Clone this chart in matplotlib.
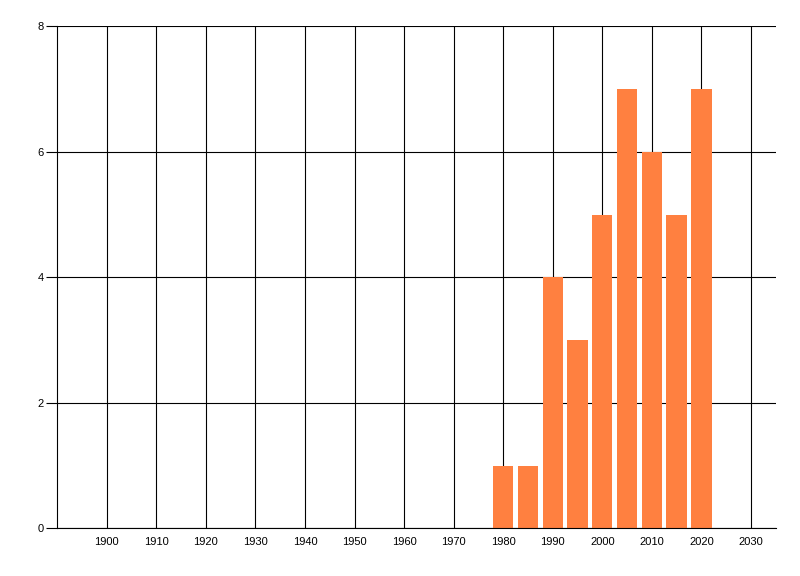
import matplotlib
matplotlib.use("Agg")
import matplotlib.pyplot as plt

years = [1980, 1985, 1990, 1995, 2000, 2005, 2010, 2015, 2020]
counts = [1, 1, 4, 3, 5, 7, 6, 5, 7]
x_ticks = list(range(1900, 2031, 10))
y_ticks = [0, 2, 4, 6, 8]

bar_color = "#FF8040"

plt.rcParams["font.family"] = ["Liberation Sans", "DejaVu Sans"]

fig = plt.figure(figsize=(8, 5.76), dpi=100)
ax = fig.add_axes([0.0716, 0.0828, 0.898, 0.8715])

ax.bar(years, counts, width=4.1, color=bar_color, zorder=3)

ax.set_xlim(1890, 2035)
ax.set_ylim(0, 8)
ax.set_xticks(x_ticks)
ax.set_yticks(y_ticks)
ax.tick_params(axis="x", length=0, pad=6, labelsize=8)
ax.tick_params(axis="y", length=8, width=0.8, pad=2, labelsize=8)

ax.grid(True, color="black", linewidth=0.8, zorder=1)
ax.set_axisbelow(True)
for side in ["top", "right"]:
    ax.spines[side].set_visible(False)
for side in ["left", "bottom"]:
    ax.spines[side].set_linewidth(0.8)
    ax.spines[side].set_zorder(4)

plt.savefig("out.png", dpi=100)
plt.close()
